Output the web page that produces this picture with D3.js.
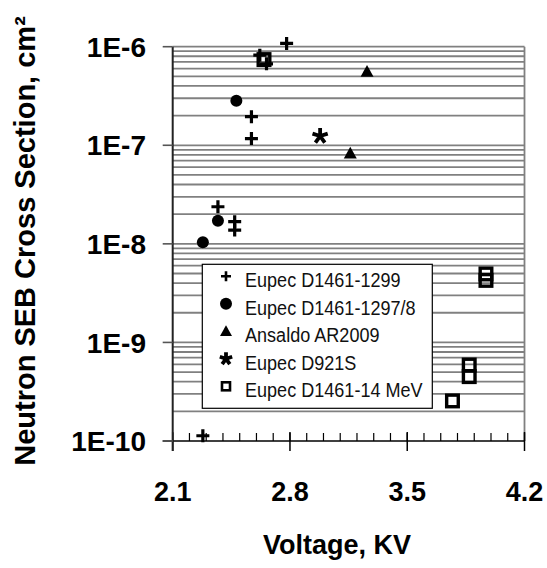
<!DOCTYPE html>
<html>
<head>
    <meta charset="utf-8">
    <title>Neutron SEB cross section</title>
    <script src="https://cdnjs.cloudflare.com/ajax/libs/d3/7.8.5/d3.min.js"></script>
    <style>
        body { margin: 0; background: #fff; }
        svg { display: block; font-family: 'Liberation Sans', Arial, sans-serif; }
        .legend text { font-size: 21px; }
    </style>
</head>
<body>
<div id="chart"></div>
<script>
    // values
    const seriesNames = ['Eupec D1461-1299', 'Eupec D1461-1297/8', 'Ansaldo AR2009', 'Eupec D921S', 'Eupec D1461-14 MeV'];

    const plusVolt = [2.62, 2.66, 2.78, 2.57, 2.57, 2.37, 2.47, 2.47, 2.28];
    const plusSigma = [8.2e-7, 6.7e-7, 1.08e-6, 1.95e-7, 1.17e-7, 2.38e-8, 1.68e-8, 1.38e-8, 1.13e-10];

    const circleVolt = [2.48, 2.37, 2.28];
    const circleSigma = [2.83e-7, 1.72e-8, 1.04e-8];

    const triVolt = [3.26, 3.16];
    const triSigma = [5.6e-7, 8.3e-8];

    const starVolt = [2.98];
    const starSigma = [1.24e-7];

    const squareVolt = [2.645, 3.97, 3.97, 3.87, 3.87, 3.77];
    const squareSigma = [7.4e-7, 4.95e-9, 4.26e-9, 5.9e-10, 4.5e-10, 2.55e-10];

    const xTicks = [2.1, 2.8, 3.5, 4.2];
    const yTicks = [1e-6, 1e-7, 1e-8, 1e-9, 1e-10];
    const yTickLabels = ['1E-6', '1E-7', '1E-8', '1E-9', '1E-10'];

    const width = 547, height = 568;
    const pLeft = 172.7, pRight = 524.5, pTop = 46.7, pBottom = 441;

    const svg = d3.select('#chart').append('svg')
        .attr('width', width)
        .attr('height', height);

    const x = d3.scaleLinear().domain([2.1, 4.2]).range([pLeft, pRight]);
    const y = d3.scaleLog().domain([1e-10, 1e-6]).range([pBottom, pTop]);

    // horizontal grid at every minor log step
    const gridVals = [];
    for (let e = -10; e < -6; e++) {
        for (let m = 1; m <= 9; m++) gridVals.push(m * Math.pow(10, e));
    }
    gridVals.push(1e-6);
    svg.append('g')
        .selectAll('line')
        .data(gridVals.filter(d => d > 1.5e-10))
        .join('line')
        .attr('x1', pLeft).attr('x2', pRight)
        .attr('y1', d => y(d)).attr('y2', d => y(d))
        .attr('stroke', '#808080')
        .attr('stroke-width', 1.8);

    // right border
    svg.append('line')
        .attr('x1', pRight).attr('x2', pRight)
        .attr('y1', pTop).attr('y2', pBottom)
        .attr('stroke', '#808080').attr('stroke-width', 1.8);

    // x axis: minor ticks inside, majors cross
    const minorX = d3.range(21, 43).map(d => d / 10);
    svg.append('g')
        .selectAll('line')
        .data(minorX)
        .join('line')
        .attr('x1', d => x(d)).attr('x2', d => x(d))
        .attr('y1', pBottom - 8).attr('y2', pBottom)
        .attr('stroke', '#000').attr('stroke-width', 1.2);

    svg.append('g')
        .selectAll('line')
        .data(xTicks)
        .join('line')
        .attr('x1', d => x(d)).attr('x2', d => x(d))
        .attr('y1', pBottom - 9).attr('y2', pBottom + 10)
        .attr('stroke', '#000').attr('stroke-width', 1.5);

    svg.append('line')
        .attr('x1', pLeft - 10).attr('x2', pRight)
        .attr('y1', pBottom).attr('y2', pBottom)
        .attr('stroke', '#000').attr('stroke-width', 1.6);

    // y axis
    svg.append('line')
        .attr('x1', pLeft).attr('x2', pLeft)
        .attr('y1', pTop).attr('y2', pBottom + 10)
        .attr('stroke', '#222').attr('stroke-width', 2);

    svg.append('g')
        .selectAll('line')
        .data(yTicks)
        .join('line')
        .attr('x1', pLeft - 10).attr('x2', pLeft)
        .attr('y1', d => y(d)).attr('y2', d => y(d))
        .attr('stroke', '#555').attr('stroke-width', 1.6);

    svg.append('g')
        .selectAll('text')
        .data(yTicks)
        .join('text')
        .attr('x', 146)
        .attr('y', d => y(d))
        .attr('dy', '0.36em')
        .attr('text-anchor', 'end')
        .style('font-size', '28px')
        .style('font-weight', 'bold')
        .text((d, i) => yTickLabels[i]);

    svg.append('g')
        .selectAll('text')
        .data(xTicks)
        .join('text')
        .attr('x', d => x(d))
        .attr('y', 501)
        .attr('text-anchor', 'middle')
        .style('font-size', '27px')
        .style('font-weight', 'bold')
        .text(d => d.toFixed(1));

    svg.append('text')
        .attr('x', 337)
        .attr('y', 554)
        .attr('text-anchor', 'middle')
        .style('font-size', '27px')
        .style('font-weight', 'bold')
        .text('Voltage, KV');

    svg.append('text')
        .attr('transform', 'translate(35,241) rotate(-90)')
        .attr('text-anchor', 'middle')
        .style('font-size', '29px')
        .style('font-weight', 'bold')
        .text('Neutron SEB Cross Section, cm²');

    // marker painters
    const plusPath = s => `M${-s},0H${s}M0,${-s}V${s}`;
    const starPath = s => d3.range(5).map(i => {
        const a = (-90 + i * 72) * Math.PI / 180;
        return `M0,0L${(s * Math.cos(a)).toFixed(2)},${(s * Math.sin(a)).toFixed(2)}`;
    }).join('');
    const triPath = s => `M0,${-s}L${s},${s * 0.8}L${-s},${s * 0.8}Z`;

    function drawPlus(g, s, w) {
        g.append('path').attr('d', plusPath(s)).attr('stroke', '#000').attr('stroke-width', w).attr('fill', 'none');
    }
    function drawCircle(g, r) {
        g.append('circle').attr('r', r).attr('fill', '#000');
    }
    function drawTri(g, s) {
        g.append('path').attr('d', triPath(s)).attr('fill', '#000');
    }
    function drawStar(g, s) {
        g.append('path').attr('d', starPath(s)).attr('stroke', '#000').attr('stroke-width', 3.8).attr('fill', 'none');
    }
    function drawSquare(g, s, w) {
        g.append('rect').attr('x', -s).attr('y', -s).attr('width', 2 * s).attr('height', 2 * s)
            .attr('fill', 'none').attr('stroke', '#000').attr('stroke-width', w);
    }

    function plotSeries(vs, ss, painter) {
        svg.append('g')
            .selectAll('g')
            .data(vs.map((v, i) => [v, ss[i]]))
            .join('g')
            .attr('transform', d => `translate(${x(d[0])},${y(d[1])})`)
            .each(function () { painter(d3.select(this)); });
    }

    plotSeries(squareVolt, squareSigma, g => drawSquare(g, 5.8, 3.4));
    plotSeries(plusVolt, plusSigma, g => drawPlus(g, 6.5, 3.2));
    plotSeries(circleVolt, circleSigma, g => drawCircle(g, 6));
    plotSeries(triVolt, triSigma, g => drawTri(g, 6.5));
    plotSeries(starVolt, starSigma, g => drawStar(g, 8));

    // legend
    const lx = 202.3, ly = 264.3, lw = 230, lh = 144;
    const legend = svg.append('g').attr('class', 'legend');
    legend.append('rect')
        .attr('x', lx).attr('y', ly).attr('width', lw).attr('height', lh)
        .attr('fill', '#fff').attr('stroke', '#000').attr('stroke-width', 1.2);

    const painters = [
        g => drawPlus(g, 5, 2.6),
        g => drawCircle(g, 6),
        g => drawTri(g, 6),
        g => drawStar(g, 6.5),
        g => drawSquare(g, 4, 2.6)
    ];
    const rows = legend.selectAll('g.row')
        .data(seriesNames)
        .join('g')
        .attr('class', 'row')
        .attr('transform', (d, i) => `translate(0,${287.3 + i * 27.5})`);
    rows.append('g')
        .attr('transform', 'translate(226,-11)')
        .each(function (d, i) { painters[i](d3.select(this)); });
    // no narrow face installed: squeeze a regular face horizontally
    rows.append('text')
        .attr('transform', 'translate(245,0) scale(0.86,1)')
        .attr('fill', '#111')
        .text(d => d);
</script>
</body>
</html>
